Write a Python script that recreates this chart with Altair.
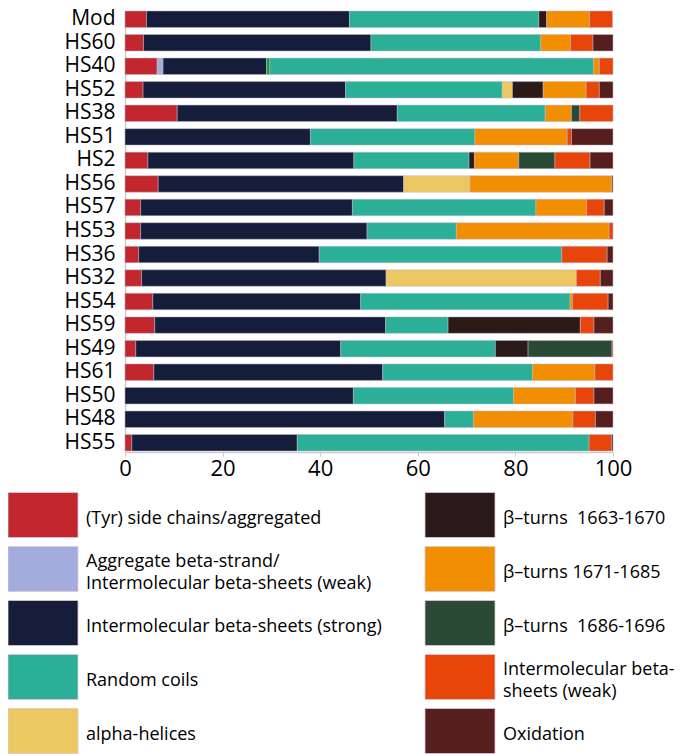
import altair as alt
import pandas as pd

rows = ["Mod", "HS60", "HS40", "HS52", "HS38", "HS51", "HS2", "HS56", "HS57", "HS53",
        "HS36", "HS32", "HS54", "HS59", "HS49", "HS61", "HS50", "HS48", "HS55"]

tyr    = [4.4, 3.8, 6.6, 3.7, 10.7, 0, 4.7, 6.8, 3.2, 3.2, 2.8, 3.4, 5.7, 6.1, 2.2, 5.9, 0, 0, 1.4]
agg    = [0, 0, 1.2, 0, 0, 0, 0, 0, 0, 0, 0, 0, 0, 0, 0, 0, 0, 0, 0]
strong = [41.6, 46.6, 21.2, 41.5, 45.1, 38.0, 42.2, 50.3, 43.4, 46.4, 37.0, 50.1, 42.6, 47.3, 42.0, 46.9, 46.8, 65.5, 33.9]
other  = [0, 0, 0.7, 0, 0, 0, 0, 0, 0, 0, 0, 0, 0, 0, 0, 0, 0, 0, 0]
coil   = [38.8, 34.8, 66.3, 32.1, 30.3, 33.7, 23.6, 0, 37.6, 18.3, 49.7, 0, 42.9, 12.8, 31.7, 30.7, 32.8, 5.9, 59.8]
alpha  = [0, 0, 0, 2.1, 0, 0, 0, 13.6, 0, 0, 0, 39.0, 0, 0, 0, 0, 0, 0, 0]
bt1663 = [1.6, 0, 0, 6.3, 0, 0, 1.1, 0, 0, 0, 0, 0, 0, 27.1, 6.7, 0, 0, 0, 0]
bt1671 = [8.8, 6.1, 1.2, 8.8, 5.4, 18.9, 9.1, 29.1, 10.4, 31.3, 0, 0, 0.5, 0, 0, 12.8, 12.7, 20.4, 0]
bt1686 = [0, 0, 0, 0, 1.7, 0, 7.4, 0, 0, 0, 0, 0, 0, 0, 17.2, 0, 0, 0, 0]
iw     = [4.7, 4.6, 2.8, 2.7, 6.8, 0.9, 7.2, 0, 3.6, 0.8, 9.3, 4.9, 7.3, 2.8, 0.2, 3.7, 3.8, 4.6, 4.6]
ox     = [0, 4.1, 0, 2.8, 0, 8.5, 4.7, 0.2, 1.8, 0, 1.2, 2.6, 1.0, 3.9, 0, 0, 3.9, 3.6, 0.3]

cat_keys = ["tyr", "agg", "strong", "other", "coil", "alpha", "bt1663", "bt1671", "bt1686", "iw", "ox"]
series = [tyr, agg, strong, other, coil, alpha, bt1663, bt1671, bt1686, iw, ox]
colors = ["#c1272d", "#a3acdc", "#161d3a", "#1e9c3e", "#2baf97", "#edc862",
          "#2b1b18", "#f28f00", "#2b4a36", "#e8450a", "#561f1d"]

legend_keys = ["tyr", "agg", "strong", "coil", "alpha", "bt1663", "bt1671", "bt1686", "iw", "ox"]
legend_labels = ["(Tyr) side chains/aggregated",
                 "Aggregate beta-strand/\nIntermolecular beta-sheets (weak)",
                 "Intermolecular beta-sheets (strong)",
                 "Random coils",
                 "alpha-helices",
                 "β–turns\u00a0 1663-1670",
                 "β–turns 1671-1685",
                 "β–turns\u00a0 1686-1696",
                 "Intermolecular beta-\nsheets (weak)",
                 "Oxidation"]

recs = []
for i, r in enumerate(rows):
    s = 0.0
    for k, vals in zip(cat_keys, series):
        v = vals[i]
        if v > 0:
            recs.append({"row": r, "cat": k, "start": s, "end": s + v})
            s += v
df = pd.DataFrame(recs)

leg = pd.DataFrame({
    "cat": legend_keys,
    "label": legend_labels,
    "col": [i // 5 for i in range(10)],
    "lrow": [i % 5 for i in range(10)],
    "lines": [lab.count("\n") + 1 for lab in legend_labels],
})

color_scale = alt.Scale(domain=cat_keys, range=colors)
FONT = "Open Sans"

bars = alt.Chart(df).mark_bar(stroke="#bfb6cc", strokeWidth=0.5).encode(
    x=alt.X("start:Q",
            scale=alt.Scale(domain=[0, 100], range=[117, 605], nice=False),
            axis=alt.Axis(values=[0, 20, 40, 60, 80, 100], offset=-302, title=None,
                          grid=False, domainColor="#cccccc", domainWidth=1.5,
                          tickColor="#cccccc", tickSize=4, labelFont=FONT,
                          labelFontSize=22, labelColor="#000000", labelPadding=2,
                          labelFlush=False)),
    x2="end:Q",
    y=alt.Y("row:N", sort=rows,
            scale=alt.Scale(domain=rows, range=[3, 443], paddingInner=0.3, paddingOuter=0),
            axis=alt.Axis(offset=-117, title=None, ticks=False, domainColor="#cccccc",
                          domainWidth=1.5, labelFont=FONT, labelFontSize=21,
                          labelColor="#000000", labelPadding=10)),
    color=alt.Color("cat:N", scale=color_scale, legend=None),
)

lx = alt.X("col:Q", scale=alt.Scale(domain=[0, 1], range=[35, 452]), axis=None)
ly = alt.Y("lrow:Q", scale=alt.Scale(domain=[0, 4], range=[507, 723]), axis=None)

swatch = alt.Chart(leg).mark_rect(width=70, height=45, stroke="#d9c9d6", strokeWidth=0.8).encode(
    x=lx, y=ly, color=alt.Color("cat:N", scale=color_scale, legend=None)
)
text_style = dict(align="left", baseline="middle", dx=43, font=FONT, fontSize=18,
                  lineBreak="\n", lineHeight=22, color="#000000")
ltext1 = alt.Chart(leg).transform_filter("datum.lines == 1").mark_text(dy=4, **text_style).encode(
    x=lx, y=ly, text="label:N"
)
ltext2 = alt.Chart(leg).transform_filter("datum.lines == 2").mark_text(dy=-7, **text_style).encode(
    x=lx, y=ly, text="label:N"
)

chart = alt.layer(bars, alt.layer(swatch, ltext1, ltext2)).resolve_scale(
    x="independent", y="independent"
).properties(
    width=669, height=746, autosize=alt.AutoSizeParams(type="none"), padding=0
).configure_view(strokeWidth=0)

chart.save("out.html", embed_options={"renderer": "svg", "actions": False})
